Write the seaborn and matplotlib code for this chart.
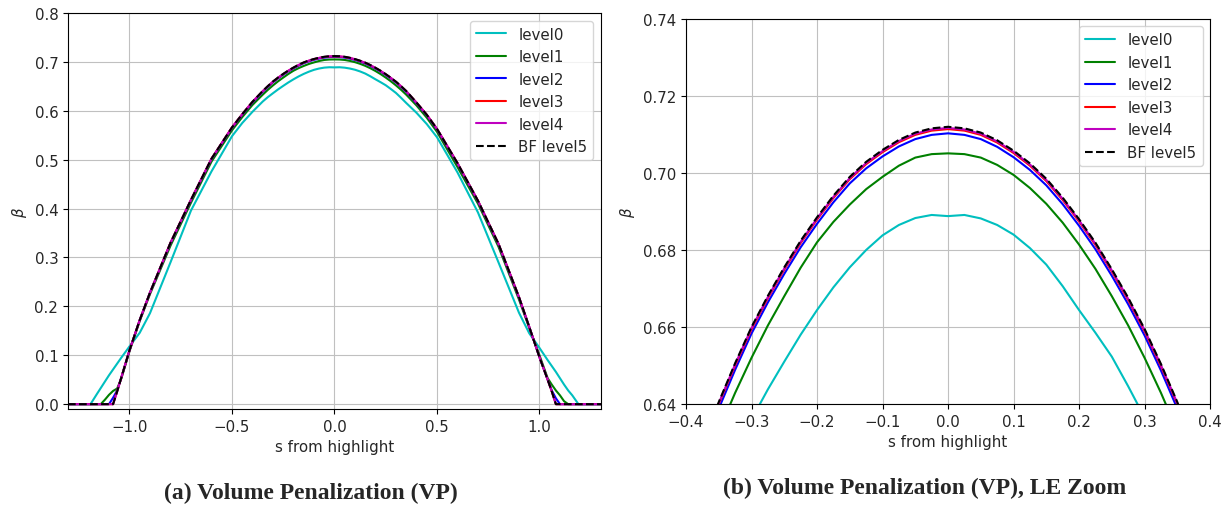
import matplotlib
matplotlib.use("Agg")
import matplotlib.pyplot as plt
import seaborn as sns

# ---- data ----
S = [-1.30, -1.19, -1.16, -1.14, -1.12, -1.10, -1.08, -1.06, -1.04, -1.00,
     -0.95, -0.90, -0.80, -0.70, -0.60, -0.50, -0.45, -0.40, -0.35,
     -0.325, -0.30, -0.275, -0.25, -0.225, -0.20, -0.175, -0.15, -0.125,
     -0.10, -0.075, -0.05, -0.025, 0.00, 0.025, 0.05, 0.075, 0.10,
     0.125, 0.15, 0.175, 0.20, 0.225, 0.25, 0.275, 0.30, 0.325,
     0.35, 0.40, 0.45, 0.50, 0.60, 0.70, 0.80, 0.90, 0.95, 1.00,
     1.04, 1.06, 1.08, 1.10, 1.12, 1.14, 1.16, 1.19, 1.30]

level0 = [0.0, 0.0, 0.020, 0.033, 0.046, 0.059, 0.071, 0.083, 0.095, 0.118,
          0.146, 0.186, 0.290, 0.396, 0.476, 0.548, 0.575, 0.598, 0.619,
          0.628, 0.636, 0.6438, 0.651, 0.658, 0.6644, 0.6703, 0.6755, 0.680,
          0.6838, 0.6865, 0.6883, 0.6891, 0.6888, 0.6891, 0.6882, 0.6865, 0.6840,
          0.6805, 0.6762, 0.6706, 0.6644, 0.6585, 0.6523, 0.6446, 0.6365, 0.6265,
          0.616, 0.596, 0.573, 0.546, 0.474, 0.392, 0.290, 0.187, 0.145, 0.115,
          0.090, 0.078, 0.066, 0.053, 0.040, 0.028, 0.018, 0.0, 0.0]

level1 = [0.0, 0.0, 0.0, 0.0, 0.009, 0.019, 0.027, 0.032, 0.052, 0.108,
          0.170, 0.225, 0.324, 0.412, 0.496, 0.560, 0.587, 0.612, 0.633,
          0.6429, 0.652, 0.6604, 0.668, 0.6754, 0.682, 0.6873, 0.6918, 0.6958,
          0.6990, 0.7019, 0.7040, 0.7049, 0.7051, 0.7049, 0.7040, 0.7021, 0.6995,
          0.6961, 0.6920, 0.6871, 0.6814, 0.6751, 0.668, 0.6604, 0.652, 0.6429,
          0.633, 0.611, 0.586, 0.557, 0.485, 0.410, 0.322, 0.214, 0.156, 0.100,
          0.053, 0.040, 0.028, 0.018, 0.006, 0.0, 0.0, 0.0, 0.0]

level2 = [0.0, 0.0, 0.0, 0.0, 0.0, 0.0, 0.013, 0.028, 0.054, 0.110,
          0.172, 0.228, 0.329, 0.417, 0.501, 0.565, 0.592, 0.6168, 0.6388,
          0.6489, 0.6583, 0.6664, 0.6738, 0.6807, 0.6868, 0.6924, 0.6973, 0.7012,
          0.7043, 0.7069, 0.7088, 0.7099, 0.7103, 0.7099, 0.7088, 0.7068, 0.7041,
          0.7008, 0.6968, 0.6919, 0.6863, 0.6802, 0.6733, 0.6659, 0.6578, 0.6487,
          0.6388, 0.6153, 0.591, 0.562, 0.492, 0.415, 0.327, 0.218, 0.158, 0.096,
          0.050, 0.028, 0.012, 0.0, 0.0, 0.0, 0.0, 0.0, 0.0]

level3 = [0.0, 0.0, 0.0, 0.0, 0.0, 0.0, 0.0, 0.027, 0.054, 0.110,
          0.172, 0.228, 0.330, 0.418, 0.502, 0.566, 0.593, 0.6182, 0.6400,
          0.6500, 0.6594, 0.6675, 0.6749, 0.6818, 0.6879, 0.6935, 0.6984, 0.7023,
          0.7054, 0.7080, 0.7099, 0.7110, 0.7114, 0.7110, 0.7099, 0.7079, 0.7052,
          0.7019, 0.6979, 0.6930, 0.6874, 0.6813, 0.6744, 0.6670, 0.6589, 0.6498,
          0.6400, 0.6167, 0.592, 0.563, 0.493, 0.416, 0.328, 0.219, 0.158, 0.096,
          0.050, 0.026, 0.0, 0.0, 0.0, 0.0, 0.0, 0.0, 0.0]

level4 = [0.0, 0.0, 0.0, 0.0, 0.0, 0.0, 0.0, 0.026, 0.054, 0.110,
          0.172, 0.228, 0.330, 0.418, 0.502, 0.566, 0.593, 0.6184, 0.6402,
          0.6503, 0.6597, 0.6678, 0.6752, 0.6821, 0.6882, 0.6938, 0.6987, 0.7026,
          0.7057, 0.7083, 0.7102, 0.7113, 0.7117, 0.7113, 0.7102, 0.7082, 0.7055,
          0.7022, 0.6982, 0.6933, 0.6877, 0.6816, 0.6747, 0.6673, 0.6592, 0.6501,
          0.6402, 0.6169, 0.592, 0.563, 0.493, 0.416, 0.328, 0.219, 0.158, 0.096,
          0.050, 0.026, 0.0, 0.0, 0.0, 0.0, 0.0, 0.0, 0.0]

bf_level5 = [0.0, 0.0, 0.0, 0.0, 0.0, 0.0, 0.0, 0.026, 0.054, 0.110,
             0.172, 0.228, 0.330, 0.418, 0.502, 0.566, 0.593, 0.6185, 0.6405,
             0.6506, 0.6600, 0.6681, 0.6755, 0.6824, 0.6885, 0.6941, 0.6990, 0.7029,
             0.7060, 0.7086, 0.7105, 0.7116, 0.7120, 0.7116, 0.7105, 0.7085, 0.7058,
             0.7025, 0.6985, 0.6936, 0.6880, 0.6819, 0.6750, 0.6676, 0.6595, 0.6504,
             0.6405, 0.6170, 0.592, 0.563, 0.493, 0.416, 0.328, 0.219, 0.158, 0.096,
             0.050, 0.026, 0.0, 0.0, 0.0, 0.0, 0.0, 0.0, 0.0]

series_labels = ["level0", "level1", "level2", "level3", "level4", "BF level5"]
series_colors = ["c", "g", "b", "r", "m", "k"]
series_styles = ["-", "-", "-", "-", "-", "--"]
series_values = [level0, level1, level2, level3, level4, bf_level5]
for v in series_values:
    assert len(v) == len(S), (len(v), len(S))

captions = ["(a) Volume Penalization (VP)", "(b) Volume Penalization (VP), LE Zoom"]

# ---- figure ----
sns.set_style("ticks")
plt.rcParams["font.family"] = ["DejaVu Sans"]

FS = 10.8
fig = plt.figure(figsize=(12.27, 5.10), dpi=100)
axL = fig.add_axes([0.0554, 0.196, 0.4344, 0.7765])
axR = fig.add_axes([0.5591, 0.2059, 0.4271, 0.7549])

for ax in (axL, axR):
    for lab, col, ls, vals in zip(series_labels, series_colors, series_styles, series_values):
        sns.lineplot(x=S, y=vals, color=col, linestyle=ls, linewidth=1.5,
                     label=lab, ax=ax, sort=False, estimator=None)
    ax.grid(True, color="#c0c0c0", linewidth=0.8)
    ax.set_axisbelow(True)
    ax.set_xlabel("s from highlight", fontsize=FS)
    ax.set_ylabel(r"$\beta$", fontsize=FS)
    ax.tick_params(labelsize=FS, width=0.8, length=3.5, color="k")
    for sp in ax.spines.values():
        sp.set_color("k")
        sp.set_linewidth(0.8)
    ax.legend(loc="upper right", fontsize=FS, frameon=True, fancybox=True,
              framealpha=0.8, edgecolor="#cccccc", handlelength=2.0)

axL.set_xlim(-1.3, 1.3)
axL.set_ylim(-0.01, 0.8)
axL.set_xticks([-1.0, -0.5, 0.0, 0.5, 1.0])
axL.set_yticks([0.0, 0.1, 0.2, 0.3, 0.4, 0.5, 0.6, 0.7, 0.8])

axR.set_xlim(-0.4, 0.4)
axR.set_ylim(0.64, 0.74)
axR.set_xticks([-0.4, -0.3, -0.2, -0.1, 0.0, 0.1, 0.2, 0.3, 0.4])
axR.set_yticks([0.64, 0.66, 0.68, 0.70, 0.72, 0.74])

fig.text(311 / 1227, 1 - 493 / 510, captions[0], ha="center", va="center",
         fontsize=17, fontweight="bold", family=["Liberation Serif", "DejaVu Serif"])
fig.text(925 / 1227, 1 - 488 / 510, captions[1], ha="center", va="center",
         fontsize=17, fontweight="bold", family=["Liberation Serif", "DejaVu Serif"])

fig.savefig("out.png", dpi=100)
